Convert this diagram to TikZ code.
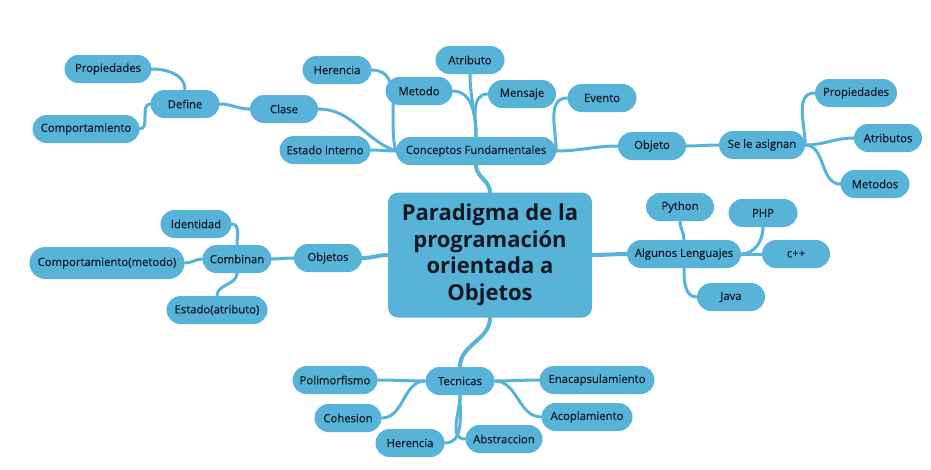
\documentclass[tikz,border=0pt]{standalone}
\usepackage{fontspec}
\setmainfont{Open Sans}
\newfontfamily\semib{Open Sans}[FakeBold=0.35]
\usetikzlibrary{backgrounds}
\definecolor{mmblue}{RGB}{88,179,216}
\definecolor{mmtext}{RGB}{18,24,36}
\begin{document}
\begin{tikzpicture}[x=1pt,y=-1pt,
  pill/.style={fill=mmblue, rounded corners=14pt, minimum height=28pt, minimum width=#1, inner sep=0pt, font=\semib\fontsize{11.3}{13}\selectfont, text=mmtext},
  conn/.style={draw=mmblue, line width=3pt, line cap=round},
  mainconn/.style={draw=mmblue, line width=4pt, line cap=round}]
\useasboundingbox (0,0) rectangle (931,469);
% root
\node[fill=mmblue, rounded corners=10pt, minimum width=204pt, minimum height=125pt, inner sep=0pt, align=center, text=mmtext, font=\fontsize{22}{26.5}\selectfont\bfseries] (root) at (490,255) {Paradigma de la\\programación\\orientada a\\Objetos};
% top cluster
\node[pill=160] (cf) at (476,151) {Conceptos Fundamentales};
\node[pill=91] (est) at (325,150) {Estado interno};
\node[pill=68] (clase) at (284,109) {Clase};
\node[pill=69] (her1) at (337,70) {Herencia};
\node[pill=67] (met) at (419,91) {Metodo};
\node[pill=69] (atr) at (470,60) {Atributo};
\node[pill=68] (men) at (522,94) {Mensaje};
\node[pill=69] (ev) at (602,98) {Evento};
\node[pill=68] (obj) at (652,146) {Objeto};
\node[pill=86] (sla) at (762,145) {Se le asignan};
\node[pill=82] (prop2) at (856,93) {Propiedades};
\node[pill=68] (atrs) at (888,138) {Atributos};
\node[pill=69] (mets) at (875,184) {Metodos};
\node[pill=69] (def) at (185,104) {Define};
\node[pill=87] (prop1) at (108,69) {Propiedades};
\node[pill=107] (comp1) at (86,129) {Comportamiento};
% right cluster
\node[pill=114] (al) at (684,254) {Algunos Lenguajes};
\node[pill=68] (py) at (680,207) {Python};
\node[pill=69] (php) at (763,213) {PHP};
\node[pill=68] (cpp) at (796,254) {c++};
\node[pill=68] (java) at (731,297) {Java};
% left cluster
\node[pill=68] (objs) at (328,258) {Objetos};
\node[pill=69] (comb) at (237,259) {Combinan};
\node[pill=71] (iden) at (196,224) {Identidad};
\node[pill=155, minimum height=32pt, rounded corners=16pt] (comp2) at (107,263) {Comportamiento(metodo)};
\node[pill=101] (est2) at (217,310) {Estado(atributo)};
% bottom cluster
\node[pill=69] (tec) at (460,381) {Tecnicas};
\node[pill=85] (pol) at (335,380) {Polimorfismo};
\node[pill=67] (coh) at (348,418) {Cohesion};
\node[pill=69] (her2) at (410,443) {Herencia};
\node[pill=77] (abs) at (504,439) {Abstraccion};
\node[pill=115] (enc) at (597,380) {Enacapsulamiento};
\node[pill=91] (aco) at (587,417) {Acoplamiento};
\begin{pgfonlayer}{background}
% root links
\draw[mainconn] (root.north) to[out=90,in=-90] (cf.south);
\draw[mainconn] (root.west) to[out=180,in=0] (objs.east);
\draw[mainconn] (root.east) to[out=0,in=180] (al.west);
\draw[mainconn] (root.south) to[out=-90,in=90] (tec.north);
% conceptos
\draw[conn] (cf.west) to[out=180,in=0] (est.east);
\draw[conn] (clase.east) to[out=0,in=160] (cf.west);
\draw[conn] (her1.east) to[out=0,in=105] (cf.west);
\draw[conn] (met.east) to[out=0,in=90] (cf.north);
\draw[conn] (atr.south) to[out=-90,in=90] (cf.north);
\draw[conn] (men.west) to[out=180,in=90] (cf.north);
\draw[conn] (cf.east) to[out=90,in=180] (ev.west);
\draw[conn] (cf.east) to[out=0,in=180] (obj.west);
\draw[conn] (clase.west) to[out=180,in=0] (def.east);
\draw[conn] (prop1.east) to[out=0,in=90] (def.north);
\draw[conn] (comp1.east) to[out=0,in=180] (def.west);
\draw[conn] (obj.east) to[out=0,in=180] (sla.west);
\draw[conn] (sla.east) to[out=90,in=180] (prop2.west);
\draw[conn] (sla.east) to[out=0,in=180] (atrs.west);
\draw[conn] (sla.east) to[out=0,in=180] (mets.west);
% lenguajes
\draw[conn] (py.south) to[out=-90,in=90] (al.north);
\draw[conn] (php.south) to[out=-90,in=0] (al.east);
\draw[conn] (cpp.west) to[out=180,in=0] (al.east);
\draw[conn] (al.south) to[out=-90,in=180] (java.west);
% objetos
\draw[conn] (objs.west) to[out=180,in=0] (comb.east);
\draw[conn] (iden.east) to[out=0,in=90] (comb.north);
\draw[conn] (comp2.east) to[out=0,in=180] (comb.west);
\draw[conn] (est2.north) to[out=90,in=-90] (comb.south);
% tecnicas
\draw[conn] (pol.east) to[out=0,in=180] (tec.west);
\draw[conn] (coh.east) to[out=0,in=180] (tec.west);
\draw[conn] (her2.east) to[out=0,in=-90] (tec.south);
\draw[conn] (abs.west) to[out=180,in=-90] (tec.south);
\draw[conn] (enc.west) to[out=180,in=0] (tec.east);
\draw[conn] (aco.west) to[out=180,in=0] (tec.east);
\end{pgfonlayer}
\end{tikzpicture}
\end{document}
